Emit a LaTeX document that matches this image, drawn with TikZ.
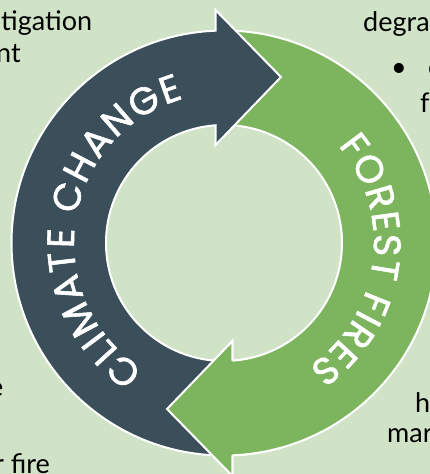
\documentclass[tikz,border=0pt]{standalone}
\usepackage{fontspec}
\setmainfont{Lato}
\newfontfamily\ringfont[FakeBold=1.6]{Poppins}
\usetikzlibrary{decorations.text}

\definecolor{bgcol}{HTML}{D1E3C7}
\definecolor{slate}{HTML}{3A4F5A}
\definecolor{leaf}{HTML}{7CB55E}

\begin{document}
\begin{tikzpicture}[x=1pt,y=1pt,
  edge/.style={draw=white, line width=2pt, line join=miter},
  body/.style={font=\fontsize{27}{32}\selectfont, text=black, inner sep=0pt, anchor=base west},
  ringtext/.style={decorate, decoration={text along path, text color=white,
      text align=fit to path, text={|\ringfont\fontsize{38}{38}\selectfont|#1}}},
]
% page and background
\fill[bgcol] (-224,-231) rectangle (206,243);
\useasboundingbox (-224,-231) rectangle (206,243);

\def\Ro{212.5}
\def\Ri{118}

% green arrow (right half, head at the bottom)
\fill[leaf] (92.29:\Ro) arc[start angle=92.29,end angle=-87.71,radius=\Ro]
  -- (8.5,-233) -- (-57,-166) -- (8.5,-98) -- (-85.87:\Ri)
  arc[start angle=-85.87,end angle=94.13,radius=\Ri] -- cycle;
\draw[edge] (94.13:\Ri) arc[start angle=94.13,end angle=-85.87,radius=\Ri]
  -- (8.5,-98) -- (-57,-166) -- (8.5,-233) -- (-87.71:\Ro)
  arc[start angle=-87.71,end angle=92.29,radius=\Ro];

% dark arrow (left half, head at the top)
\fill[slate] (92.29:\Ro) arc[start angle=92.29,end angle=272.29,radius=\Ro]
  -- (274.13:\Ri) arc[start angle=274.13,end angle=94.13,radius=\Ri]
  -- (-8.5,98) -- (57,166) -- (-8.5,233) -- cycle;
\draw[edge] (274.13:\Ri) arc[start angle=274.13,end angle=94.13,radius=\Ri]
  -- (-8.5,98) -- (57,166) -- (-8.5,233) -- (92.29:\Ro)
  arc[start angle=92.29,end angle=272.29,radius=\Ro];

% green head laid over the dark tail, reaching a little into its own band
\fill[leaf] (8.5,-233) -- (-57,-166) -- (8.5,-98) -- (-85.87:\Ri)
  arc[start angle=-85.87,end angle=-75,radius=\Ri] -- (-75:\Ro)
  arc[start angle=-75,end angle=-87.71,radius=\Ro] -- cycle;
\draw[edge] (-85.87:\Ri) -- (8.5,-98) -- (-57,-166) -- (8.5,-233) -- (-87.71:\Ro);
\draw[edge] (-85.87:\Ri) arc[start angle=-85.87,end angle=-75,radius=\Ri];
\draw[edge] (-87.71:\Ro) arc[start angle=-87.71,end angle=-75,radius=\Ro];

% ring labels
\path[ringtext={CLIMATE CHANGE}] (237.5:150) arc[start angle=237.5,end angle=105.7,radius=150];
\path[ringtext={FOREST FIRES}] (40.4:150) arc[start angle=40.4,end angle=-55.7,radius=150];

% surrounding text
\node[body] (t1) at (-223,212) {tigation};
\node[body] (t2) at (-228,180) {nt};
\node[body] (t3) at (-235,-153) {e};
\node[body] (t4) at (-230,-230) {r fire};
\node[body] (t5) at (139,211) {degra};
\node[body] (t6) at (167,166) {•};
\node[body] (t7) at (204,166) {c};
\node[body] (t8) at (196,130) {fo};
\node[body] (t9) at (191,-169) {h};
\node[body] (t10) at (163,-199) {mar};
\end{tikzpicture}
\end{document}
